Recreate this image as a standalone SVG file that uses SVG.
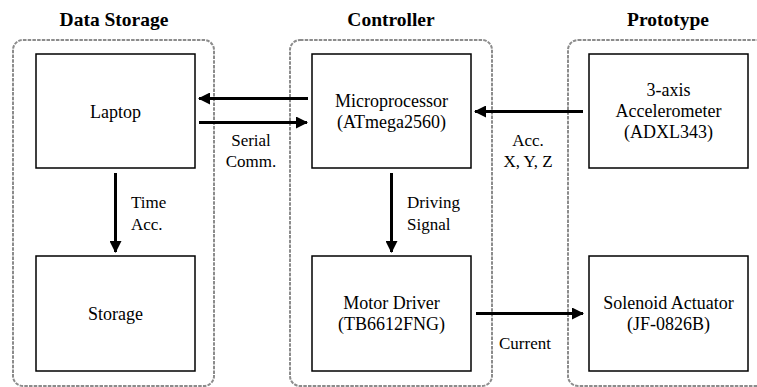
<svg xmlns="http://www.w3.org/2000/svg" width="757" height="387" viewBox="0 0 757 387">
<defs>
<style>
.title{font-family:'Liberation Serif','Times New Roman',serif;font-weight:bold;font-size:19.5px;fill:#000;text-anchor:middle}
.t{font-family:'Liberation Serif','Times New Roman',serif;font-size:18px;fill:#000;text-anchor:middle}
.lbl{font-family:'Liberation Serif','Times New Roman',serif;font-size:17px;fill:#000;text-anchor:middle}
.lbll{font-family:'Liberation Serif','Times New Roman',serif;font-size:17px;fill:#000}
.grp{fill:none;stroke:#8c8c8c;stroke-width:2;stroke-dasharray:3.5 1.2}
.box{fill:#fff;stroke:#000;stroke-width:1.5}
.con{stroke:#000;stroke-width:3;fill:none}
</style>
<marker id="ah" viewBox="0 0 12 12" refX="11" refY="6" markerWidth="4" markerHeight="4" markerUnits="strokeWidth" orient="auto">
<path d="M0,0 L12,6 L0,12 Z" fill="#000"/>
</marker>
</defs>
<rect width="757" height="387" fill="#fff"/>
<g id="group-data-storage">
<rect class="grp" x="13" y="40" width="201" height="346" rx="10" ry="10"/>
<text class="title" x="114" y="26">Data Storage</text>
</g>
<g id="group-controller">
<rect class="grp" x="290" y="40" width="202" height="346" rx="10" ry="10"/>
<text class="title" x="391" y="26">Controller</text>
</g>
<g id="group-prototype">
<rect class="grp" x="568" y="40" width="220" height="346" rx="10" ry="10"/>
<text class="title" x="668" y="26">Prototype</text>
</g>
<g id="laptop">
<rect class="box" x="36" y="54" width="159" height="114"/>
<text class="t" x="115.5" y="118">Laptop</text>
</g>
<g id="storage">
<rect class="box" x="36" y="256" width="159" height="115"/>
<text class="t" x="115.5" y="320">Storage</text>
</g>
<g id="microprocessor">
<rect class="box" x="312" y="54" width="159" height="114"/>
<text class="t" x="391.5" y="107">Microprocessor</text>
<text class="t" x="391.5" y="128">(ATmega2560)</text>
</g>
<g id="motor-driver">
<rect class="box" x="312" y="256" width="159" height="115"/>
<text class="t" x="391.5" y="309">Motor Driver</text>
<text class="t" x="391.5" y="330">(TB6612FNG)</text>
</g>
<g id="accelerometer">
<rect class="box" x="589" y="54" width="159" height="114"/>
<text class="t" x="668.5" y="96">3-axis</text>
<text class="t" x="668.5" y="117">Accelerometer</text>
<text class="t" x="668.5" y="138">(ADXL343)</text>
</g>
<g id="solenoid">
<rect class="box" x="589" y="256" width="159" height="115"/>
<text class="t" x="668.5" y="309">Solenoid Actuator</text>
<text class="t" x="668.5" y="330">(JF-0826B)</text>
</g>
<g id="connectors">
<line class="con" x1="308" y1="98.5" x2="199" y2="98.5" marker-end="url(#ah)"/>
<line class="con" x1="199" y1="122.5" x2="307" y2="122.5" marker-end="url(#ah)"/>
<text class="lbl" x="251" y="146">Serial</text>
<text class="lbl" x="251" y="167">Comm.</text>
<line class="con" x1="583" y1="111.5" x2="475" y2="111.5" marker-end="url(#ah)"/>
<text class="lbl" x="528" y="146">Acc.</text>
<text class="lbl" x="528" y="167">X, Y, Z</text>
<line class="con" x1="115.5" y1="173" x2="115.5" y2="252" marker-end="url(#ah)"/>
<text class="lbll" x="131" y="208">Time</text>
<text class="lbll" x="131" y="230">Acc.</text>
<line class="con" x1="391.5" y1="173" x2="391.5" y2="252" marker-end="url(#ah)"/>
<text class="lbll" x="407" y="208">Driving</text>
<text class="lbll" x="407" y="230">Signal</text>
<line class="con" x1="476" y1="313.5" x2="583" y2="313.5" marker-end="url(#ah)"/>
<text class="lbl" x="525" y="349">Current</text>
</g>
</svg>
